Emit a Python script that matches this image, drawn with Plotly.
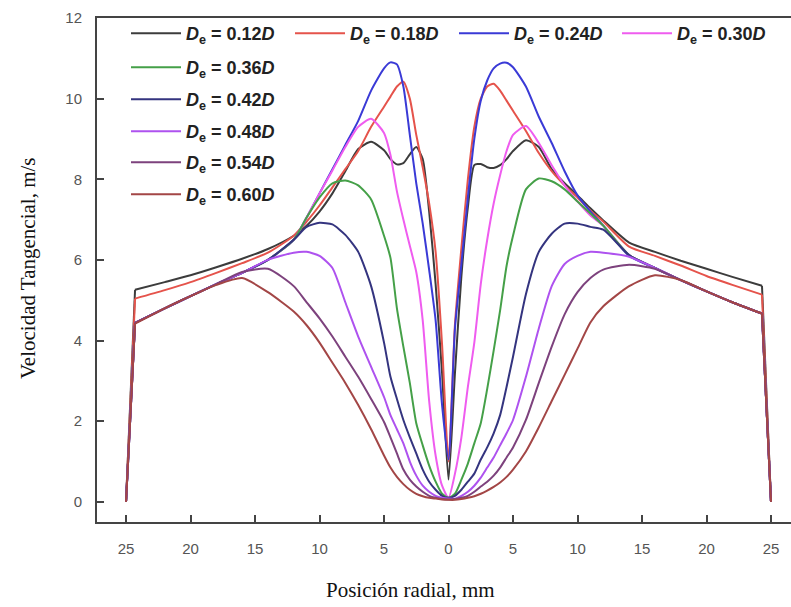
import plotly.graph_objects as go

# radial position (mm)
x_mm = [-25, -24.3, -22, -20, -18, -16, -14, -12, -11, -10, -9, -8, -7, -6, -5, -4.5, -4, -3.5, -3, -2.5,
        -2, -1.5, -1, -0.5, 0, 0.5, 1, 1.5, 2, 2.5, 3, 3.5, 4, 4.5, 5, 6, 7, 8, 9, 10, 11, 12, 14, 16,
        18, 20, 22, 24.3, 25]

x_tick_vals = [-25, -20, -15, -10, -5, 0, 5, 10, 15, 20, 25]
x_tick_text = ["25", "20", "15", "10", "5", "0", "5", "10", "15", "20", "25"]
y_tick_vals = [0, 2, 4, 6, 8, 10, 12]

labels = ["0.12", "0.18", "0.24", "0.30", "0.36", "0.42", "0.48", "0.54", "0.60"]

v012 = [0, 5.26, 5.45, 5.62, 5.82, 6.03, 6.27, 6.6, 6.85, 7.2, 7.65, 8.2, 8.75, 8.93, 8.72, 8.5, 8.37, 8.4, 8.62, 8.8,
        8.5, 7.2, 5.4, 3.2, 0.55,
        3.2, 5.6, 7.3, 8.35, 8.38, 8.3, 8.28, 8.35, 8.5, 8.7, 8.97, 8.8, 8.25, 7.9, 7.6, 7.28, 6.98, 6.43, 6.2,
        5.98, 5.78, 5.58, 5.36, 0]
v018 = [0, 5.04, 5.25, 5.45, 5.68, 5.92, 6.18, 6.6, 6.95, 7.35, 7.8, 8.25, 8.7, 9.3, 9.8, 10.05, 10.3, 10.42, 10.0, 9.1,
        8.3, 7.4, 6.2, 3.9, 1.0,
        4.4, 6.3, 8.0, 9.3, 10.0, 10.3, 10.37, 10.2, 9.95, 9.7, 9.2, 8.65, 8.2, 7.85, 7.55, 7.22, 6.95, 6.33, 6.1,
        5.86, 5.6, 5.38, 5.14, 0]
v024 = [0, 4.44, 4.8, 5.1, 5.4, 5.68, 6.0, 6.5, 7.05, 7.65, 8.25, 8.85, 9.45, 10.2, 10.75, 10.9, 10.85, 10.3, 9.1, 7.9,
        6.9, 5.75, 4.5, 2.4, 1.05,
        4.3, 5.9, 7.55, 9.0, 9.95, 10.45, 10.75, 10.87, 10.89, 10.78, 10.3, 9.55, 8.9, 8.2, 7.6, 7.2, 6.85, 6.1, 5.8,
        5.5, 5.22, 4.95, 4.67, 0]
v030 = [0, 4.44, 4.8, 5.1, 5.4, 5.68, 6.0, 6.5, 7.05, 7.65, 8.22, 8.8, 9.3, 9.5, 9.15, 8.6, 7.7, 7.0, 6.35, 5.7,
        4.5, 2.5, 1.15, 0.4, 0.1,
        0.7, 1.6, 2.85, 3.95, 5.4, 6.5, 7.4, 8.1, 8.7, 9.1, 9.32, 8.9, 8.35, 7.85, 7.45, 7.1, 6.85, 6.12, 5.8,
        5.5, 5.22, 4.95, 4.67, 0]
v036 = [0, 4.44, 4.8, 5.1, 5.4, 5.68, 6.0, 6.5, 7.05, 7.55, 7.9, 7.97, 7.85, 7.5, 6.6, 6.05, 4.8, 3.85, 2.95, 1.95,
        1.4, 0.9, 0.5, 0.2, 0.1,
        0.2, 0.55, 0.95, 1.45, 1.95, 2.8, 3.75, 4.75, 5.85, 6.6, 7.75, 8.02, 7.95, 7.75, 7.45, 7.15, 6.85, 6.12, 5.8,
        5.5, 5.22, 4.95, 4.67, 0]
v042 = [0, 4.44, 4.8, 5.1, 5.4, 5.68, 6.0, 6.5, 6.82, 6.92, 6.88, 6.62, 6.2, 5.35, 3.95, 3.1, 2.55, 2.03, 1.6, 1.2,
        0.8, 0.5, 0.3, 0.15, 0.1,
        0.15, 0.3, 0.5, 0.7, 1.05, 1.35, 1.7, 2.15, 2.85, 3.6, 5.15, 6.2, 6.65, 6.9, 6.9, 6.82, 6.75, 6.12, 5.8,
        5.5, 5.22, 4.95, 4.67, 0]
v048 = [0, 4.44, 4.8, 5.1, 5.4, 5.68, 6.0, 6.18, 6.2, 6.1, 5.8, 4.95, 4.1, 3.35, 2.6, 2.15, 1.8, 1.45, 1.0, 0.65,
        0.4, 0.25, 0.15, 0.1, 0.08,
        0.08, 0.15, 0.25, 0.4, 0.6, 0.85, 1.1, 1.4, 1.7, 2.03, 3.1, 4.3, 5.35, 5.9, 6.1, 6.2, 6.18, 6.08, 5.8,
        5.5, 5.22, 4.95, 4.67, 0]
v054 = [0, 4.44, 4.8, 5.1, 5.4, 5.7, 5.78, 5.35, 4.95, 4.55, 4.1, 3.6, 3.1, 2.55, 1.98, 1.6, 1.2, 0.8, 0.55, 0.38,
        0.25, 0.15, 0.1, 0.07, 0.06,
        0.07, 0.1, 0.15, 0.25, 0.38, 0.5, 0.65, 0.85, 1.1, 1.35, 2.03, 2.95, 3.85, 4.65, 5.2, 5.55, 5.76, 5.88, 5.78,
        5.5, 5.22, 4.95, 4.67, 0]
v060 = [0, 4.42, 4.8, 5.1, 5.38, 5.55, 5.2, 4.72, 4.38, 3.95, 3.45, 2.95, 2.4, 1.8, 1.15, 0.85, 0.62, 0.44, 0.3, 0.2,
        0.14, 0.1, 0.08, 0.06, 0.05,
        0.05, 0.07, 0.1, 0.14, 0.2, 0.28, 0.37, 0.48, 0.62, 0.8, 1.25, 1.85, 2.5, 3.15, 3.8, 4.45, 4.85, 5.35, 5.62,
        5.5, 5.22, 4.95, 4.67, 0]

series = [v012, v018, v024, v030, v036, v042, v048, v054, v060]
colors = ["#3c3c3c", "#e5534b", "#3a3ad6", "#ef5cef", "#45a048", "#34347f", "#ae52ef", "#7d427d", "#a34646"]

# legend entry anchor points (pixels in the page): line start x, row centre y
legend_x_px = [132, 296, 460, 623, 132, 132, 132, 132, 132]
legend_y_px = [33, 33, 33, 33, 67, 99, 131, 162, 194]

PLOT_L, PLOT_T, PLOT_W, PLOT_H = 97, 18, 694, 504

fig = go.Figure()
legend_layouts = {}
legfont = dict(family="Liberation Sans, Arial, sans-serif", size=18, color="#222222")
for i, (lab, vals, col) in enumerate(zip(labels, series, colors)):
    name = f"<b><i>D</i><sub>e</sub> = {lab}<i>D</i></b>"
    leg = "legend" if i == 0 else f"legend{i + 1}"
    grp = f"g{i}"
    fig.add_trace(go.Scatter(
        x=x_mm[1:-1], y=vals[1:-1], mode="lines", name=name, legend=leg, legendgroup=grp,
        line=dict(color=col, width=2, shape="spline", smoothing=0.6)))
    fig.add_trace(go.Scatter(
        x=x_mm[:2], y=vals[:2], mode="lines", showlegend=False, legend=leg, legendgroup=grp,
        line=dict(color=col, width=2), hoverinfo="skip"))
    fig.add_trace(go.Scatter(
        x=x_mm[-2:], y=vals[-2:], mode="lines", showlegend=False, legend=leg, legendgroup=grp,
        line=dict(color=col, width=2), hoverinfo="skip"))
    lx = (legend_x_px[i] - 6 - PLOT_L) / PLOT_W
    ly = 1 - (legend_y_px[i] - 18 - PLOT_T) / PLOT_H
    legend_layouts[leg] = dict(x=lx, y=ly, xanchor="left", yanchor="top",
                               bgcolor="rgba(0,0,0,0)", font=legfont, itemwidth=50)

tickfont = dict(family="Liberation Sans, Arial, sans-serif", size=15, color="#555555")

fig.update_layout(
    width=791, height=607,
    margin=dict(l=PLOT_L, r=0, t=PLOT_T, b=85),
    paper_bgcolor="white", plot_bgcolor="white",
    xaxis=dict(range=[-27.25, 26.55], tickvals=x_tick_vals, ticktext=x_tick_text,
               ticks="inside", ticklen=7, tickwidth=1.5, tickcolor="#444444",
               showline=True, linecolor="#444444", linewidth=2, mirror=True,
               showgrid=False, zeroline=False, tickfont=tickfont, ticklabelstandoff=12),
    yaxis=dict(range=[-0.5, 12], tickvals=y_tick_vals,
               ticks="inside", ticklen=7, tickwidth=1.5, tickcolor="#444444",
               showline=True, linecolor="#444444", linewidth=2,
               showgrid=False, zeroline=False, tickfont=tickfont, ticklabelstandoff=10),
    showlegend=True,
    annotations=[
        dict(text="Velocidad Tangencial, m/s", xref="paper", yref="paper",
             x=(28 - PLOT_L) / PLOT_W, y=(522 - 268) / PLOT_H, xanchor="center", yanchor="middle",
             textangle=-90, showarrow=False,
             font=dict(family="Liberation Serif, Times New Roman, serif", size=21, color="#111111")),
        dict(text="Posición radial, mm", xref="paper", yref="paper",
             x=(410 - PLOT_L) / PLOT_W, y=(522 - 590) / PLOT_H, xanchor="center", yanchor="middle",
             showarrow=False,
             font=dict(family="Liberation Serif, Times New Roman, serif", size=21, color="#111111")),
    ],
)
fig.update_layout(**legend_layouts)

fig.write_html("out.html")
